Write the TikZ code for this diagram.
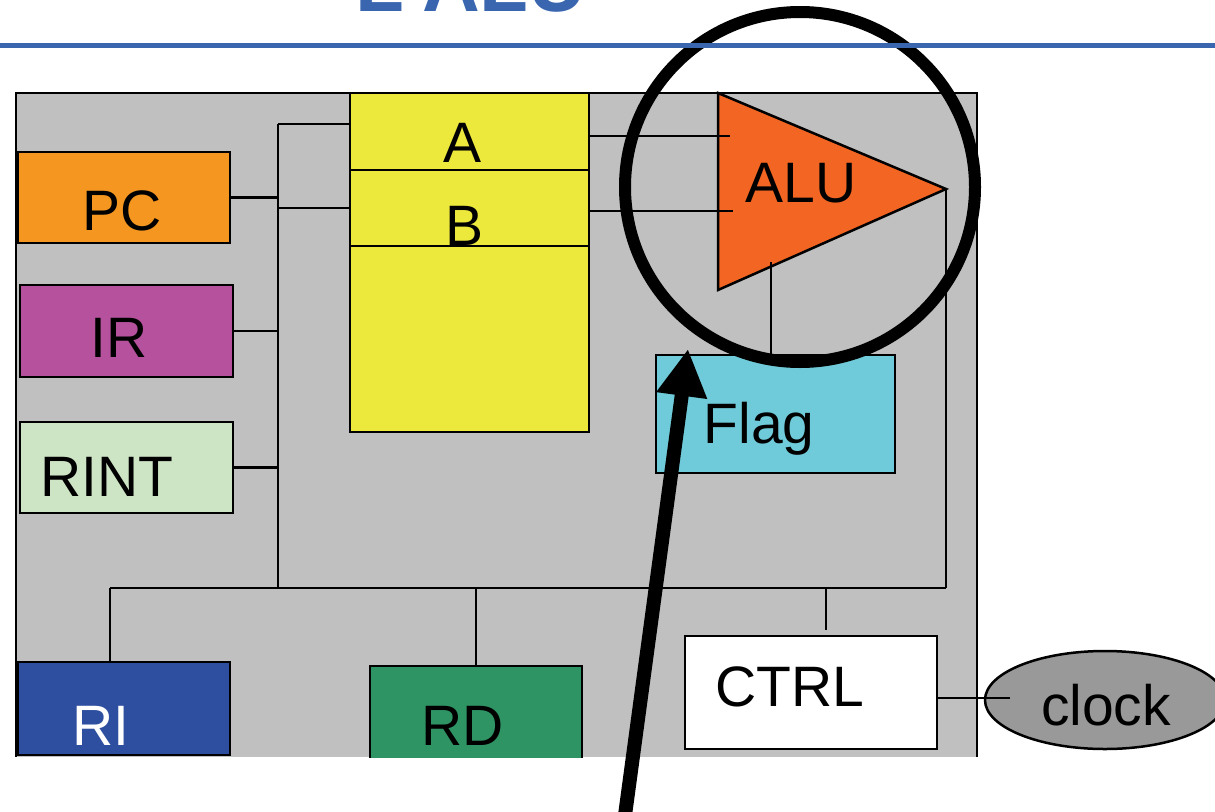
\documentclass[tikz,border=0pt]{standalone}
\usepackage{fontspec}
\setmainfont{Liberation Sans}
\usetikzlibrary{arrows.meta,shapes.geometric}
\definecolor{titleblue}{HTML}{3A66B0}
\definecolor{panelgray}{HTML}{C0C0C0}
\definecolor{regyellow}{HTML}{EDE83C}
\definecolor{pcorange}{HTML}{F4961F}
\definecolor{irpurple}{HTML}{B5519D}
\definecolor{rintgreen}{HTML}{CDE5C5}
\definecolor{aluorange}{HTML}{F26522}
\definecolor{flagcyan}{HTML}{6FCBD9}
\definecolor{riblue}{HTML}{2E4FA0}
\definecolor{rdgreen}{HTML}{2E9464}
\definecolor{clockgray}{HTML}{999999}
\begin{document}
\begin{tikzpicture}[x=1pt,y=-1pt,
  box/.style={draw=black,line width=2.8pt,inner sep=0pt,outer sep=0pt},
  lbl/.style={font=\fontsize{57}{60}\selectfont,inner sep=0pt,anchor=base},
  wire/.style={line width=2.8pt}]
\useasboundingbox (0,0) rectangle (1215,811);
\clip (0,0) rectangle (1215,811);
% title (cut off at top)
\node[font=\fontsize{80}{80}\selectfont\bfseries,text=titleblue,inner sep=0pt,anchor=base] (title) at (471,11) {L'ALU};
% panel
\fill[panelgray] (16,93) rectangle (977,757);
\draw[line width=2.5pt] (16,757) -- (16,93) -- (977,93) -- (977,757);
% boxes
\node[box,fill=pcorange,minimum width=212,minimum height=91] (pc) at (124,197.5) {};
\node[box,fill=irpurple,minimum width=213,minimum height=92] (ir) at (126.5,331) {};
\node[box,fill=rintgreen,minimum width=213,minimum height=91] (rint) at (126.5,467.5) {};
\node[box,fill=regyellow,minimum width=239,minimum height=77] (regA) at (469.5,131.5) {};
\node[box,fill=regyellow,minimum width=239,minimum height=76] (regB) at (469.5,208) {};
\node[box,fill=regyellow,minimum width=239,minimum height=186] (regC) at (469.5,339) {};
\node[box,fill=flagcyan,minimum width=239,minimum height=118] (flag) at (775.5,414) {};
\node[box,fill=riblue,minimum width=212,minimum height=93] (ri) at (124,708.5) {};
\node[box,fill=rdgreen,minimum width=212,minimum height=120] (rd) at (476,726) {};
\node[box,fill=white,minimum width=252,minimum height=113] (ctrl) at (811,692.5) {};
% ALU triangle
\coordinate (aluTL) at (718,93);
\coordinate (aluBL) at (718,290);
\coordinate (aluTip) at (946,189);
\draw[line width=2.5pt,fill=aluorange,line join=miter] (aluTL) -- (aluTip) -- (aluBL) -- cycle;
% bus coordinates
\coordinate (busTop) at (278,124);
\coordinate (busBot) at (278,588);
\coordinate (hL) at (110,588);
\coordinate (hR) at (946,588);
\coordinate (ctrlTap) at (826,630);
\coordinate (aIn) at (730,136);
\coordinate (bIn) at (733,211);
\coordinate (aluF) at (771,262);
% wires
\draw[wire] (busTop) -- (busBot);
\draw[wire] (busTop) -- (busTop -| regA.west);
\draw[wire] (regB.west) -- (regB.west -| busTop);
\draw[wire] (pc.east) -- (pc.east -| busTop);
\draw[wire] (ir.east) -- (ir.east -| busTop);
\draw[wire] (rint.east) -- (rint.east -| busTop);
\draw[wire] (hL) -- (hR);
\draw[wire] (hL) -- (hL |- ri.north);
\draw[wire] (rd.north) -- (rd.north |- hL);
\draw[wire] (ctrlTap |- hL) -- (ctrlTap);
\draw[wire] (aluTip) -- (hR);
\draw[wire] (aIn -| regA.east) -- (aIn);
\draw[wire] (bIn -| regB.east) -- (bIn);
\draw[wire] (aluF) -- (aluF |- flag.north);
% labels
\node[lbl] (tPC) at (122,230) {PC};
\node[lbl] (tIR) at (119,357) {IR};
\node[lbl,anchor=base west] (tRINT) at (40,496) {RINT};
\node[lbl] (tA) at (463,162) {A};
\node[lbl] (tB) at (465,245) {B};
\node[lbl] (tALU) at (801,202) {ALU};
\node[lbl] (tFlag) at (759,443) {Flag};
\node[lbl,text=white] (tRI) at (101,745) {RI};
\node[lbl] (tRD) at (463,745) {RD};
\node[lbl] (tCTRL) at (790,706) {CTRL};
% cut the bottom
\fill[white] (0,758.3) rectangle (980,811);
% clock
\node[ellipse,draw=black,line width=2.5pt,fill=clockgray,minimum width=240,minimum height=98,inner sep=0pt] (clock) at (1105,700) {};
\node[lbl] (tclock) at (1106,725) {clock};
\coordinate (clkIn) at (1010,698);
\draw[wire] (ctrl.east |- clkIn) -- (clkIn);
% highlight circle and arrow
\node[circle,draw=black,line width=12pt,minimum size=350,inner sep=0pt] (focus) at (800,187) {};
\coordinate (arrowTail) at (623,830);
\coordinate (arrowTip) at (688,349);
\draw[line width=14pt,-{Triangle[length=47pt,width=48pt]}] (arrowTail) -- (arrowTip);
% title rule (drawn over the circle)
\draw[titleblue,line width=5pt] (0,45) -- (1215,45);
\end{tikzpicture}
\end{document}
